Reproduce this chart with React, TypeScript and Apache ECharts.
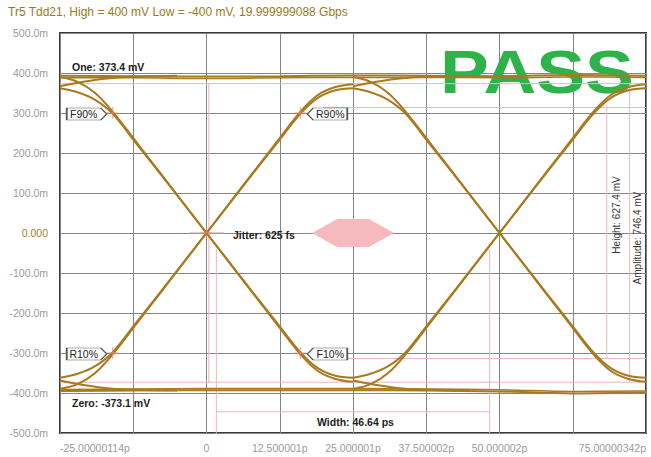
import { useEffect, useRef } from 'react';
import * as echarts from 'echarts';

const FONT = '"Liberation Sans", Arial, sans-serif';
const TITLE = 'Tr5 Tdd21, High = 400 mV Low = -400 mV, 19.999999088 Gbps';

// axis ticks
const X_TICKS = [-25, -12.5, 0, 12.5, 25, 37.5, 50, 62.5, 75];
const X_TICK_LABELS = ['-25.00000114p', '', '0', '12.500001p', '25.000001p', '37.500002p', '50.000002p', '', '75.00000342p'];

// eye traces (time in ps, value in mV)
const T_EDGE_0 = [-25, -22, -19, -16, -12, -8, -4, 0, 4, 8, 12, 16, 19, 22, 25];
const T_EDGE_50 = [25, 28, 31, 34, 38, 42, 46, 50, 54, 58, 62, 66, 69, 72, 75];
const RISE_SETTLED = [-390, -378, -350, -303, -228, -152, -76, 0, 76, 152, 228, 303, 345, 365, 372];
const RISE_SINGLE = [-362, -352, -333, -298, -224, -150, -75, 0, 75, 150, 224, 298, 338, 357, 362];
const FALL_SETTLED = [390, 378, 350, 303, 228, 152, 76, 0, -76, -152, -228, -303, -345, -365, -372];
const FALL_SINGLE = [362, 352, 333, 298, 224, 150, 75, 0, -75, -150, -224, -298, -338, -357, -362];

const T_SETTLE_A = [-25, -21, -17, -12, -5];
const T_SETTLE_B = [25, 29, 33, 38, 45];
const SETTLE_HI = [367, 378, 386, 391, 393];
const SETTLE_LO = [-369, -380, -388, -392, -394];

const T_FLAT = [-25, -12.5, 0, 12.5, 25, 37.5, 50, 62.5, 75];
const FLAT_HI_1 = [393, 392, 391, 392, 394, 393, 392, 395, 393];
const FLAT_HI_2 = [388, 388, 386, 388, 389, 389, 388, 390, 389];
const FLAT_LO_1 = [-395, -394, -393, -393, -393, -394, -396, -401, -399];
const FLAT_LO_2 = [-391, -390, -389, -389, -389, -390, -392, -396, -395];

// measurement markers
const MARK_T = [-16, 16, -16, 16, 0];
const MARK_V = [300, 300, -300, -300, 0];
const MARK_NAMES = ['F90%', 'R90%', 'R10%', 'F10%'];
const MARK_POINTS_RIGHT = [true, false, true, false];

// eye mask hexagon
const MASK_T = [18, 22.3, 27.7, 32, 27.7, 22.3];
const MASK_V = [0, 35, 35, 0, -35, -35];

// measurement levels
const ONE_LEVEL = 373.4;
const ZERO_LEVEL = -373.1;
const EYE_HI = 313.7;
const EYE_LO = -313.7;
const WIDTH_START = 1.68;
const WIDTH_END = 48.32;
const WIDTH_BAR = -447;
const HEIGHT_T = 68.3;
const AMP_T = 72.2;
const CROSS_T = 0.4;

const TRACE = '#a8791f';
const PINK = '#ebb7bb';

const RIGHT_BOX = 'path://M0,0L34,0L40,6L34,12L0,12Z';
const LEFT_BOX = 'path://M6,0L40,0L40,12L6,12L0,6Z';
const PLUS = 'path://M5.5,0h1v5.5h5.5v1h-5.5v5.5h-1v-5.5h-5.5v-1h5.5z';

function zip(ts: number[], vs: number[]) {
  return ts.map((t, i) => [t, vs[i]]);
}

function trace(ts: number[], vs: number[], width = 2) {
  return {
    type: 'line',
    data: zip(ts, vs),
    symbol: 'none',
    smooth: 0.35,
    lineStyle: { color: TRACE, width },
    silent: true,
    z: 3,
  };
}

function pink(pts: number[][], color = PINK) {
  return {
    type: 'line',
    data: pts,
    symbol: 'none',
    lineStyle: { color, width: 1 },
    silent: true,
    z: 1,
  };
}

export default function App() {
  const ref = useRef<HTMLDivElement>(null);
  useEffect(() => {
    const chart = echarts.init(ref.current!, null, { renderer: 'svg' });
    const text = (t: string, x: number, y: number, extra: any = {}) => ({
      type: 'text',
      x,
      y,
      z: 10,
      ...extra,
      style: {
        text: t,
        fontFamily: FONT,
        fontSize: 10.5,
        fontWeight: 'bold',
        fill: '#1c1c1c',
        verticalAlign: 'middle',
        ...(extra.style || {}),
      },
    });
    const option: any = {
      animation: false,
      backgroundColor: '#fff',
      textStyle: { fontFamily: FONT },
      grid: {
        left: 60,
        right: 5,
        top: 33,
        bottom: 24,
        show: true,
        borderColor: '#3a3a3a',
        borderWidth: 2,
        backgroundColor: '#fff',
      },
      xAxis: {
        type: 'value',
        min: -25,
        max: 75,
        interval: 12.5,
        axisLine: { show: false },
        axisTick: { show: false },
        splitLine: { show: true, lineStyle: { color: '#858585', width: 1 } },
        axisLabel: {
          color: '#9a9a9a',
          fontSize: 10.5,
          margin: 9,
          alignMinLabel: 'left',
          alignMaxLabel: 'right',
          showMinLabel: true,
          showMaxLabel: true,
          formatter: (v: number) => {
            const i = X_TICKS.findIndex((t) => Math.abs(t - v) < 1e-6);
            return i >= 0 ? X_TICK_LABELS[i] : '';
          },
        },
      },
      yAxis: {
        type: 'value',
        min: -500,
        max: 500,
        interval: 100,
        axisLine: { show: false },
        axisTick: { show: false },
        splitLine: { show: true, lineStyle: { color: '#858585', width: 1 } },
        axisLabel: {
          color: '#9a9a9a',
          fontSize: 10.5,
          margin: 12,
          formatter: (v: number) => (Math.abs(v) < 1e-9 ? '{z|0.000}' : `${v.toFixed(1)}m`),
          rich: { z: { color: '#9c8424', fontSize: 10.5 } },
        },
      },
      graphic: [
        text(TITLE, 8, 12, { style: { fontSize: 12, fontWeight: 'normal', fill: '#9b7a1d' } }),
        {
          type: 'text',
          x: 440,
          y: 72,
          scaleX: 1.2,
          z: 1,
          style: { text: 'PASS', fontFamily: FONT, fontSize: 61, fontWeight: 'bold', fill: '#2eb34a', verticalAlign: 'middle' },
        },
        text('One: 373.4 mV', 72, 67),
        text('Zero: -373.1 mV', 72, 403),
        text('Jitter: 625 fs', 233, 235),
        text('Width: 46.64 ps', 317, 422),
        text('Height: 627.4 mV', 616, 215, { rotation: Math.PI / 2, style: { fontSize: 10, fontWeight: 'normal', align: 'center', fill: '#333' } }),
        text('Amplitude: 746.4 mV', 637, 238, { rotation: Math.PI / 2, style: { fontSize: 10, fontWeight: 'normal', align: 'center', fill: '#333' } }),
      ],
      series: [
        pink([[-25, ONE_LEVEL], [75, ONE_LEVEL]]),
        pink([[-25, ZERO_LEVEL], [75, ZERO_LEVEL]]),
        pink([[20, EYE_HI], [75, EYE_HI]]),
        pink([[20, EYE_LO], [75, EYE_LO]]),
        pink([[WIDTH_START, -40], [WIDTH_START, -500]]),
        pink([[WIDTH_END, -40], [WIDTH_END, -500]]),
        pink([[WIDTH_START, WIDTH_BAR], [WIDTH_END, WIDTH_BAR]]),
        pink([[HEIGHT_T, EYE_HI], [HEIGHT_T, EYE_LO]]),
        pink([[AMP_T, ONE_LEVEL], [AMP_T, ZERO_LEVEL]]),
        pink([[CROSS_T, ONE_LEVEL], [CROSS_T, ZERO_LEVEL]]),
        pink([[-3, 0], [3, 0]], '#c9a3a6'),
        {
          type: 'custom',
          silent: true,
          z: 2,
          data: [[0, 0]],
          renderItem: (_p: any, api: any) => ({
            type: 'polygon',
            shape: { points: MASK_T.map((t, i) => api.coord([t, MASK_V[i]])) },
            style: { fill: '#f6b9bd' },
          }),
        },
        trace(T_FLAT, FLAT_HI_1),
        trace(T_FLAT, FLAT_HI_2, 1.5),
        trace(T_FLAT, FLAT_LO_1),
        trace(T_FLAT, FLAT_LO_2, 1.5),
        trace(T_SETTLE_A, SETTLE_HI),
        trace(T_SETTLE_B, SETTLE_HI),
        trace(T_SETTLE_A, SETTLE_LO),
        trace(T_SETTLE_B, SETTLE_LO),
        trace(T_EDGE_0, RISE_SETTLED),
        trace(T_EDGE_0, RISE_SINGLE),
        trace(T_EDGE_0, FALL_SETTLED),
        trace(T_EDGE_0, FALL_SINGLE),
        trace(T_EDGE_50, RISE_SETTLED),
        trace(T_EDGE_50, RISE_SINGLE),
        trace(T_EDGE_50, FALL_SETTLED),
        trace(T_EDGE_50, FALL_SINGLE),
        {
          type: 'scatter',
          data: zip(MARK_T, MARK_V),
          symbol: PLUS,
          symbolSize: 12,
          itemStyle: { color: '#e8866c' },
          silent: true,
          z: 4,
          markPoint: {
            silent: true,
            data: MARK_NAMES.map((n, i) => ({
              coord: [MARK_T[i], MARK_V[i]],
              symbol: MARK_POINTS_RIGHT[i] ? RIGHT_BOX : LEFT_BOX,
              symbolSize: [40, 12],
              symbolOffset: [MARK_POINTS_RIGHT[i] ? -26 : 27, 1],
              itemStyle: { color: '#fff', borderColor: '#555', borderWidth: 1 },
              label: {
                show: true,
                position: 'inside',
                formatter: n,
                color: '#222',
                fontSize: 10.5,
                offset: [MARK_POINTS_RIGHT[i] ? -3 : 3, 0],
              },
            })),
          },
        },
      ],
    };
    chart.setOption(option);
    return () => chart.dispose();
  }, []);
  return (
    <div
      ref={ref}
      style={{ position: 'fixed', left: 0, top: 0, width: 651, height: 457, background: '#fff' }}
    />
  );
}
